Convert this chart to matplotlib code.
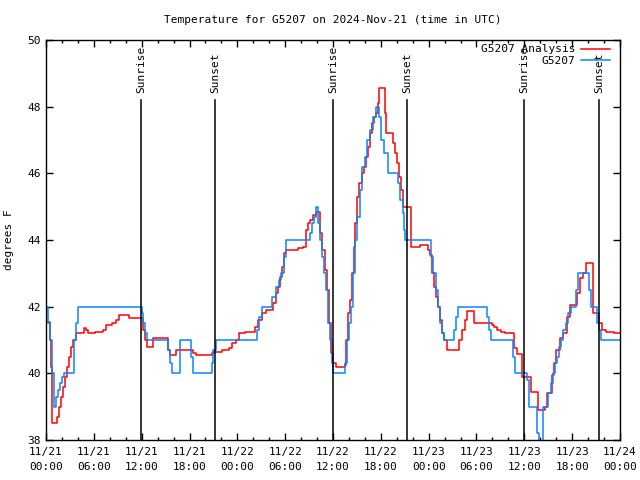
import numpy as np
import matplotlib
matplotlib.use('Agg')
import matplotlib.pyplot as plt
from matplotlib.ticker import MultipleLocator

# --- data: (hours since 2024-11-21 00:00 UTC, degrees F) ---
obs_points = [
    (0.0, 42.0), (0.25, 41.5), (0.5, 41.0), (0.75, 40.0), (0.95, 39.0), (1.25, 39.3),
    (1.5, 39.5), (1.75, 39.7), (2.0, 39.9), (2.25, 40.0), (3.25, 40.0), (3.5, 41.0),
    (3.75, 41.5), (4.0, 42.0), (12.0, 41.8), (12.2, 41.5), (12.4, 41.2), (12.7, 41.0),
    (15.3, 40.7), (15.5, 40.3), (15.8, 40.0), (16.8, 41.0), (18.2, 40.5), (18.5, 40.0),
    (20.8, 40.3), (21.0, 40.7), (21.3, 41.0), (26.5, 41.3), (26.7, 41.7), (27.1, 42.0),
    (28.3, 42.3), (28.8, 42.6), (29.2, 42.8), (29.5, 43.0), (29.8, 43.5), (30.1, 44.0),
    (33.1, 44.2), (33.4, 44.5), (33.6, 44.7), (33.9, 45.0), (34.1, 44.5), (34.4, 44.0),
    (34.6, 43.5), (34.9, 43.0), (35.1, 42.5), (35.4, 41.5), (35.6, 41.0), (35.9, 40.3),
    (36.0, 40.0), (37.5, 40.3), (37.8, 41.0), (38.0, 41.5), (38.3, 42.0), (38.5, 43.0),
    (38.8, 44.0), (39.0, 44.7), (39.4, 45.5), (39.6, 46.2), (40.0, 46.5), (40.3, 47.0),
    (40.6, 47.3), (41.0, 47.7), (41.4, 48.0), (41.8, 47.7), (42.0, 47.0), (42.4, 46.6),
    (42.9, 46.0), (44.2, 45.7), (44.4, 45.2), (44.8, 44.8), (44.9, 44.3), (45.0, 44.0),
    (48.3, 43.5), (48.5, 43.0), (48.9, 42.5), (49.2, 42.0), (49.4, 41.5), (49.7, 41.2),
    (49.9, 41.0), (51.2, 41.3), (51.4, 41.7), (51.7, 42.0), (55.3, 41.7), (55.6, 41.3),
    (55.8, 41.0), (58.6, 40.5), (58.8, 40.0), (60.3, 39.8), (60.6, 39.0), (61.6, 38.2),
    (61.8, 37.5), (62.3, 39.0), (63.0, 39.4), (63.3, 39.7), (63.6, 40.0), (63.8, 40.3),
    (64.1, 40.5), (64.4, 40.8), (64.6, 41.0), (64.9, 41.3), (65.2, 41.5), (65.5, 41.8),
    (65.8, 42.0), (66.5, 42.5), (66.7, 43.0), (68.1, 42.5), (68.3, 42.0), (69.1, 41.5),
    (69.4, 41.3), (69.6, 41.0), (72.0, 41.0),
]
ana_points = [
    (0.0, 41.55), (0.5, 41.0), (0.6, 40.2), (0.75, 38.5), (1.4, 38.7), (1.6, 39.0),
    (1.9, 39.3), (2.1, 39.6), (2.4, 39.9), (2.6, 40.2), (2.9, 40.5), (3.1, 40.8),
    (3.4, 41.0), (3.75, 41.2), (4.75, 41.35), (5.0, 41.3), (5.3, 41.2), (6.1, 41.25),
    (7.1, 41.3), (7.5, 41.45), (8.3, 41.5), (8.8, 41.6), (9.2, 41.75), (10.4, 41.65),
    (12.2, 41.3), (12.4, 41.0), (12.7, 40.8), (13.4, 41.05), (15.3, 40.7), (15.5, 40.55),
    (16.3, 40.7), (18.4, 40.6), (18.8, 40.55), (20.8, 40.6), (21.1, 40.65), (22.1, 40.7),
    (23.0, 40.75), (23.3, 40.9), (23.8, 41.0), (24.2, 41.2), (25.0, 41.25), (26.2, 41.4),
    (26.6, 41.6), (27.1, 41.8), (27.6, 41.9), (28.5, 42.1), (28.9, 42.4), (29.1, 42.6),
    (29.4, 42.9), (29.6, 43.2), (29.9, 43.6), (30.1, 43.7), (31.6, 43.75), (32.2, 43.8),
    (32.6, 44.3), (32.9, 44.5), (33.1, 44.6), (33.5, 44.75), (33.9, 44.85), (34.4, 44.2),
    (34.6, 43.7), (35.0, 43.1), (35.2, 42.5), (35.5, 41.5), (35.8, 40.6), (36.0, 40.3),
    (36.4, 40.2), (37.5, 40.25), (37.6, 41.0), (37.9, 41.8), (38.1, 42.2), (38.4, 43.0),
    (38.6, 43.8), (38.8, 44.5), (39.0, 45.3), (39.3, 45.7), (39.6, 46.0), (39.9, 46.2),
    (40.1, 46.5), (40.4, 46.8), (40.6, 47.2), (40.9, 47.5), (41.1, 47.7), (41.4, 47.8),
    (41.6, 48.1), (41.8, 48.55), (42.5, 47.8), (42.7, 47.2), (43.5, 46.9), (43.8, 46.6),
    (44.0, 46.3), (44.3, 45.9), (44.5, 45.5), (44.8, 45.0), (45.8, 43.8), (46.9, 43.85),
    (47.9, 43.7), (48.2, 43.55), (48.4, 43.0), (48.7, 42.6), (48.9, 42.3), (49.2, 42.0),
    (49.4, 41.6), (49.7, 41.2), (49.9, 41.0), (50.3, 40.7), (51.8, 41.0), (52.2, 41.3),
    (52.6, 41.6), (52.8, 41.87), (53.7, 41.5), (55.9, 41.45), (56.2, 41.4), (56.6, 41.3),
    (57.1, 41.25), (57.6, 41.2), (58.7, 40.75), (59.1, 40.57), (59.7, 39.9), (60.8, 39.45),
    (61.7, 38.9), (62.6, 39.0), (62.8, 39.4), (63.5, 39.95), (63.7, 40.3), (64.0, 40.7),
    (64.5, 41.05), (64.9, 41.2), (65.4, 41.7), (65.7, 42.05), (66.6, 42.4), (67.0, 42.85),
    (67.4, 43.0), (67.7, 43.3), (68.6, 41.8), (69.4, 41.5), (69.7, 41.3), (70.2, 41.25),
    (71.2, 41.2), (72.0, 41.2),
]

sun_hours = [11.92, 21.2, 36.0, 45.28, 59.96, 69.37]
sun_labels = ['Sunrise', 'Sunset', 'Sunrise', 'Sunset', 'Sunrise', 'Sunset']

xtick_hours = [0, 6, 12, 18, 24, 30, 36, 42, 48, 54, 60, 66, 72]
xtick_labels = ['11/21\n00:00', '11/21\n06:00', '11/21\n12:00', '11/21\n18:00',
                '11/22\n00:00', '11/22\n06:00', '11/22\n12:00', '11/22\n18:00',
                '11/23\n00:00', '11/23\n06:00', '11/23\n12:00', '11/23\n18:00',
                '11/24\n00:00']

obs_h, obs_t = zip(*obs_points)
ana_h, ana_t = zip(*ana_points)

plt.rcParams['font.family'] = ['DejaVu Sans Mono']
fs = 8

fig = plt.figure(figsize=(6.4, 4.8), dpi=100)
ax = fig.add_axes([46/640, 40/480, 574/640, 400/480])

ax.step(ana_h, ana_t, where='post', color='#ff0000', lw=1.1, label='G5207 Analysis')
ax.step(obs_h, obs_t, where='post', color='#0a84ff', lw=1.1, label='G5207')

# sunrise / sunset markers
for h, lab in zip(sun_hours, sun_labels):
    ax.plot([h, h], [38, 48.2], color='black', lw=1.1)
    ax.text(h, 48.4, lab, rotation=90, ha='center', va='bottom', fontsize=fs)

ax.set_xlim(0, 72)
ax.set_ylim(38, 50)
ax.set_xticks(xtick_hours)
ax.set_xticklabels(xtick_labels, fontsize=fs, linespacing=1.6)
ax.xaxis.set_minor_locator(MultipleLocator(2))
ax.set_yticks(np.arange(38, 51, 2))
ax.set_yticklabels([str(v) for v in range(38, 51, 2)], fontsize=fs)
ax.tick_params(which='both', direction='in', top=True, right=True, width=1)
ax.tick_params(which='major', length=5, pad=4)
ax.tick_params(axis='x', which='major', pad=5)
ax.tick_params(which='minor', length=2.5)
for s in ax.spines.values():
    s.set_linewidth(1)

ax.set_ylabel('degrees F', fontsize=fs, labelpad=9)
ax.set_title('Temperature for G5207 on 2024-Nov-21 (time in UTC)', fontsize=fs, pad=12)

ax.legend(loc='upper right', bbox_to_anchor=(0.99, 1.0), frameon=False,
          markerfirst=False, fontsize=fs, handlelength=2.6, handletextpad=0.5,
          labelspacing=0.1, borderaxespad=0.1, borderpad=0.3)

fig.savefig('out.png', dpi=100)
